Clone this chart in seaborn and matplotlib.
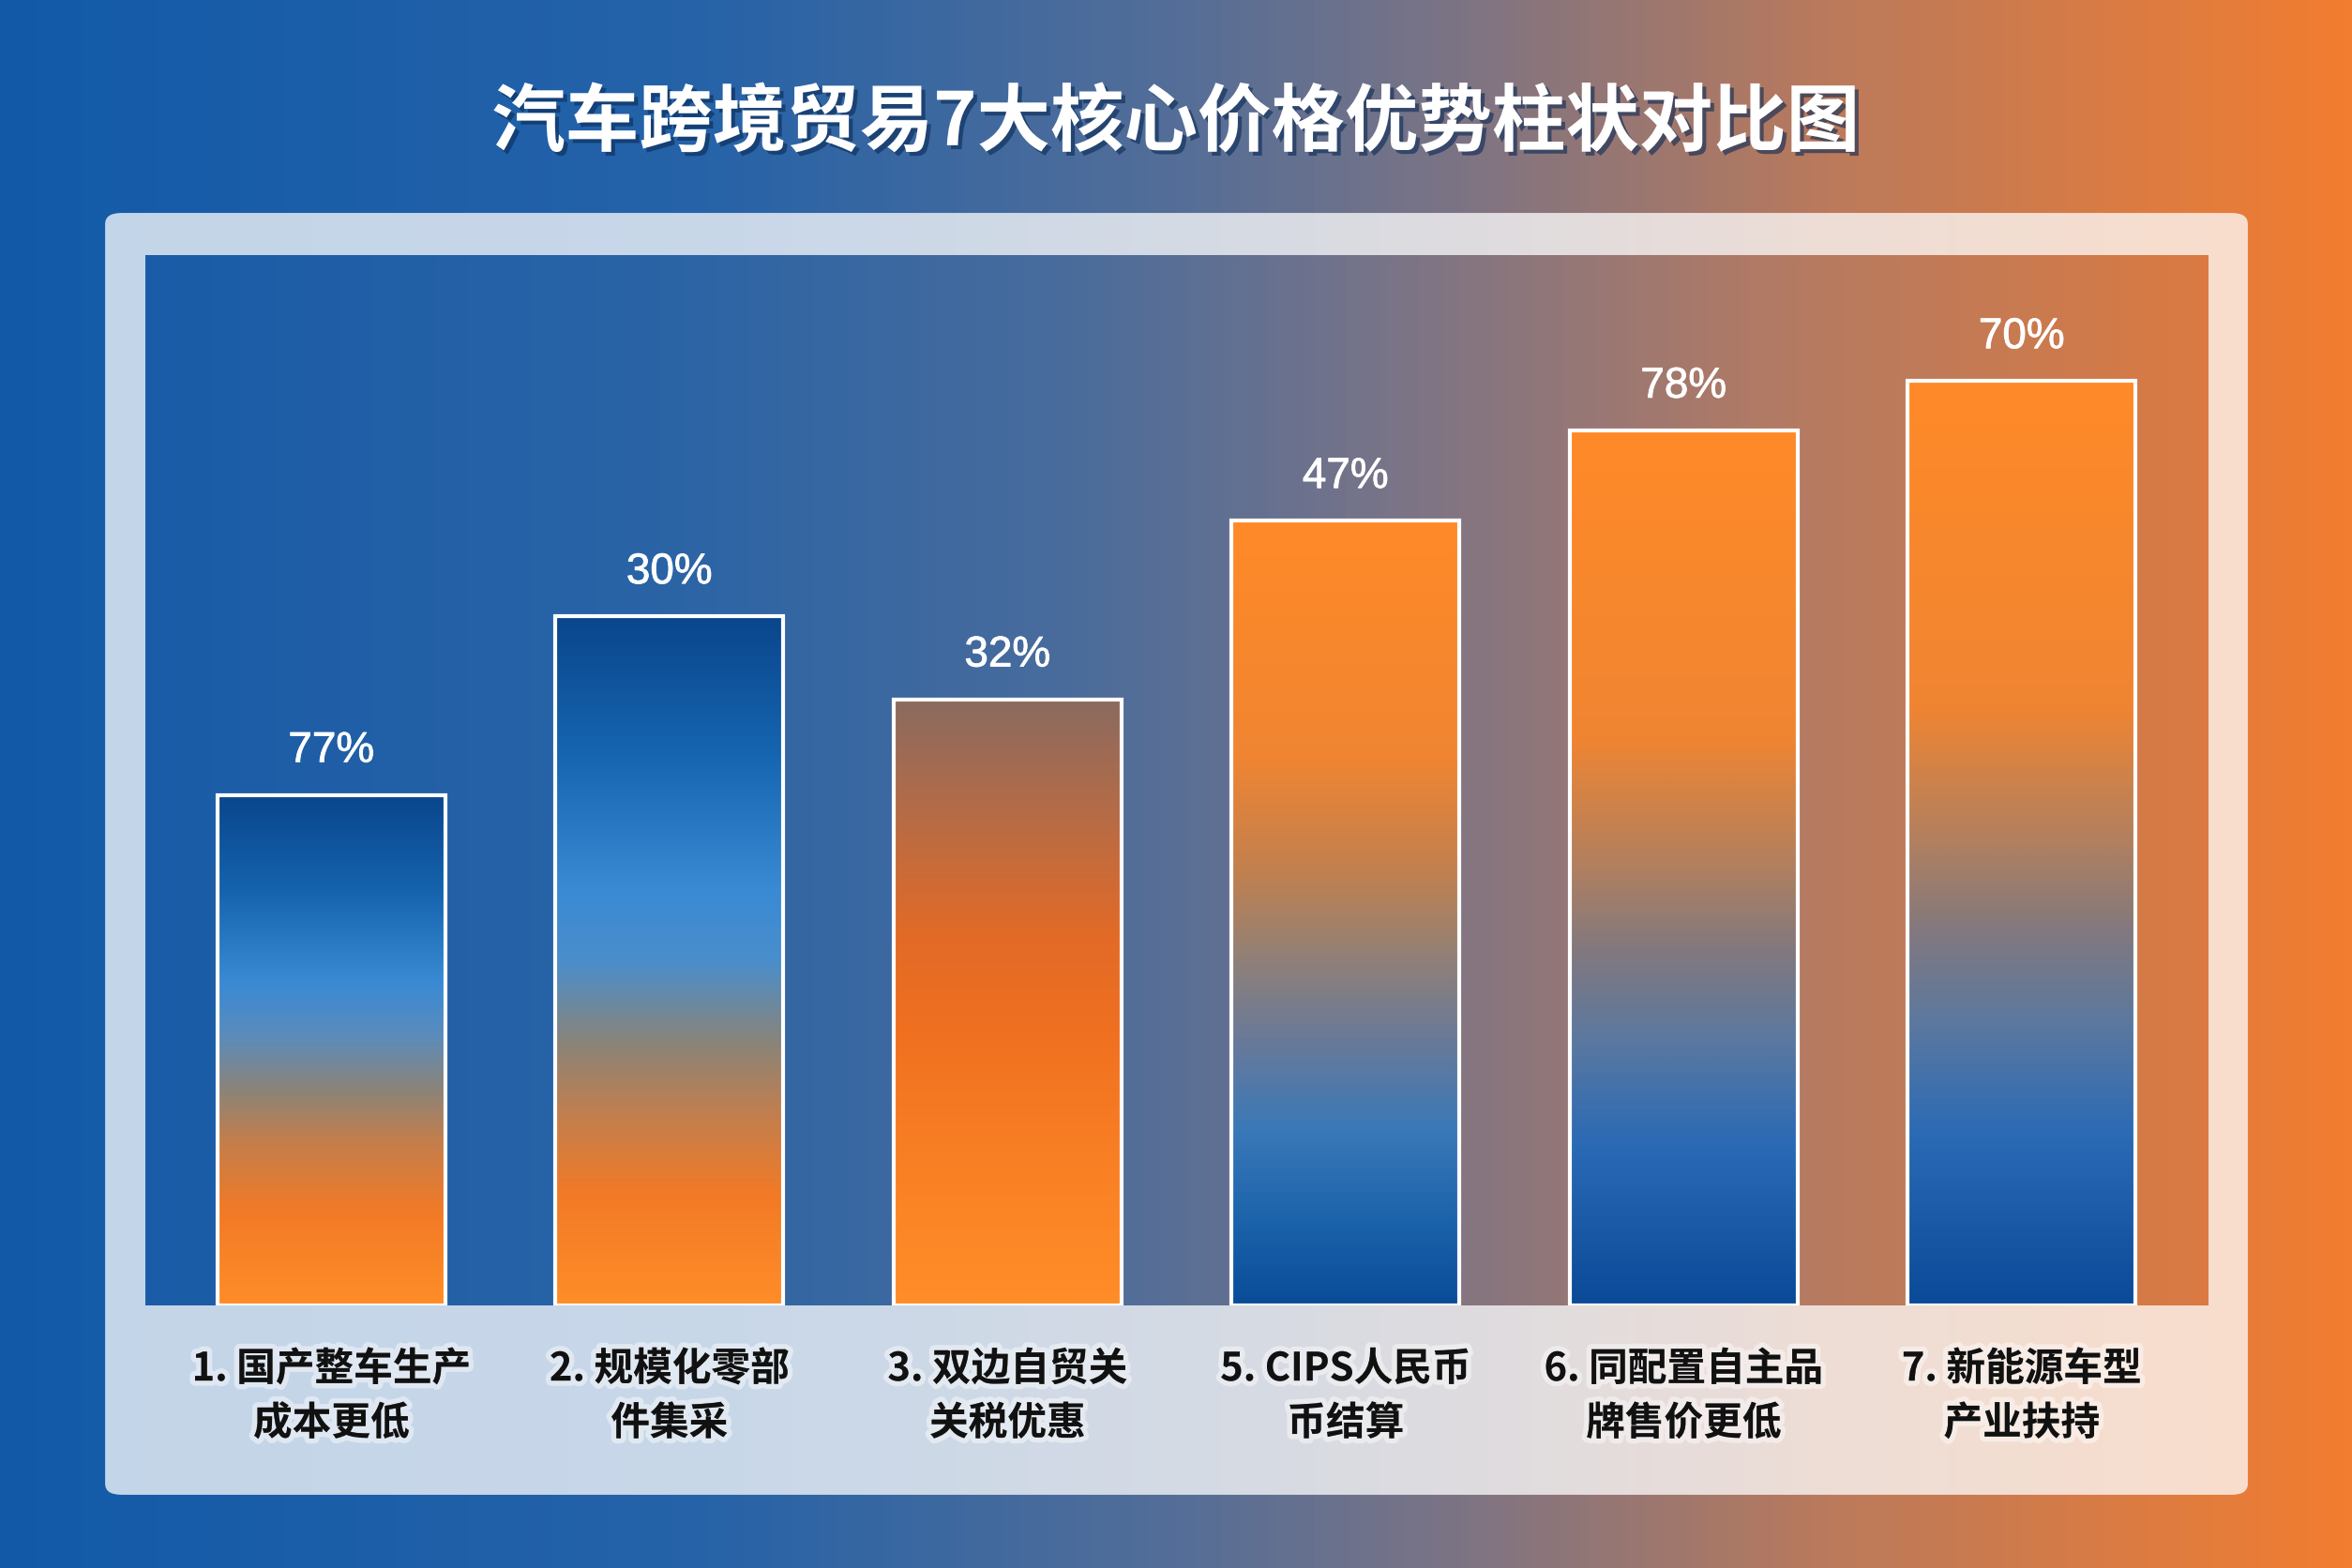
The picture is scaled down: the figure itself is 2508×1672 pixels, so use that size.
import numpy as np
import matplotlib
matplotlib.use("Agg")
import matplotlib.pyplot as plt
import matplotlib.patheffects as pe
from matplotlib.colors import LinearSegmentedColormap
from matplotlib.patches import FancyBboxPatch
import seaborn as sns

# data
title = "汽车跨境贸易7大核心价格优势柱状对比图"
categories = [
    "1. 国产整车生产\n成本更低",
    "2. 规模化零部\n件集采",
    "3. 双边自贸关\n关税优惠",
    "5. CIPS人民币\n币结算",
    "6. 同配置自主品\n牌售价更低",
    "7. 新能源车型\n产业扶持",
]
heights = [48.6, 65.6, 57.7, 74.7, 83.3, 88.0]
value_labels = ["77%", "30%", "32%", "47%", "78%", "70%"]

# gradient stops per bar (top -> bottom)
blue_top = [(0.0, "#0a468c"), (0.18, "#1462ac"), (0.37, "#3a8ad4"), (0.47, "#5a8cbc"),
            (0.58, "#8c8478"), (0.68, "#c47e4c"), (0.82, "#f27a26"), (1.0, "#ff8d28")]
blue_top2 = [(0.0, "#0a468c"), (0.2, "#1565b0"), (0.4, "#3a8ad4"), (0.5, "#4a8ecc"),
             (0.62, "#8a8478"), (0.72, "#c07f50"), (0.84, "#f27a26"), (1.0, "#ff8d28")]
brown_top = [(0.0, "#8a6a60"), (0.2, "#b86c45"), (0.38, "#e06a28"), (0.55, "#f07020"),
             (0.8, "#fa8225"), (1.0, "#ff8d28")]
orange_top = [(0.0, "#ff8a28"), (0.3, "#f08532"), (0.45, "#c08050"), (0.56, "#908078"),
              (0.66, "#6a7a98"), (0.78, "#3a78b8"), (0.9, "#1a62aa"), (1.0, "#0a4c98")]
orange_top2 = [(0.0, "#ff8a28"), (0.35, "#f08532"), (0.5, "#b08060"), (0.6, "#807880"),
               (0.7, "#5a78a0"), (0.82, "#2a6ab5"), (1.0, "#0a4a98")]
bar_stops = [blue_top, blue_top2, brown_top, orange_top, orange_top2, orange_top2]

sns.set_theme(style="white")
plt.rcParams["font.family"] = ["Noto Sans CJK SC", "DejaVu Sans"]

fig = plt.figure(figsize=(25.08, 16.72), dpi=100)

# page background
bg = fig.add_axes([0, 0, 1, 1], zorder=-10)
bg_cmap = LinearSegmentedColormap.from_list(
    "bg", [(0, "#125aa8"), (0.3, "#2663a8"), (0.5, "#546e98"), (0.62, "#7c7484"),
           (0.78, "#bb7a5c"), (1, "#f27d30")])
bg.imshow(np.linspace(0, 1, 512)[None, :], cmap=bg_cmap, aspect="auto", extent=[0, 1, 0, 1])
bg.axis("off")

# light frame
frame = FancyBboxPatch((0.0447, 0.0467), 0.911, 0.8175,
                       boxstyle="round,pad=0,rounding_size=0.007",
                       transform=fig.transFigure, facecolor="white", alpha=0.75,
                       edgecolor="none", zorder=-5)
fig.patches.append(frame)

rect = [0.0618, 0.1675, 0.8768, 0.6699]

# plot area background
pa = fig.add_axes(rect, zorder=-1)
pa_cmap = LinearSegmentedColormap.from_list(
    "pa", [(0, "#1a5ca8"), (0.25, "#2a64a6"), (0.45, "#4a6c9c"), (0.6, "#787488"),
           (0.78, "#b07a66"), (1, "#da7a42")])
pa.imshow(np.linspace(0, 1, 512)[None, :], cmap=pa_cmap, aspect="auto", extent=[0, 1, 0, 1])
pa.axis("off")

ax = fig.add_axes(rect)
ax.set_facecolor("none")
sns.barplot(x=categories, y=heights, ax=ax, width=0.675, color="white",
            edgecolor="white", linewidth=3)

for patch, stops, lab in zip(ax.patches, bar_stops, value_labels):
    x0, y0 = patch.get_x(), patch.get_y()
    w, h = patch.get_width(), patch.get_height()
    cmap = LinearSegmentedColormap.from_list("bar", stops)
    im = ax.imshow(np.linspace(0, 1, 256)[:, None], cmap=cmap, aspect="auto",
                   extent=[x0, x0 + w, y0, y0 + h], origin="upper", zorder=1,
                   interpolation="bicubic")
    im.set_clip_path(patch)
    patch.set_facecolor("none")
    patch.set_zorder(2)
    ax.text(x0 + w / 2, y0 + h + 4.2, lab, ha="center", va="center", color="white",
            fontsize=33, family=["Liberation Sans", "DejaVu Sans"],
            path_effects=[pe.withStroke(linewidth=0.6, foreground="white")])

ax.set_xlim(-0.55, 5.55)
ax.set_ylim(0, 100)
ax.set_yticks([])
ax.set_xlabel("")
ax.set_ylabel("")
for s in ax.spines.values():
    s.set_visible(False)
ax.tick_params(axis="x", length=0, pad=34)
for lbl in ax.get_xticklabels():
    lbl.set_fontsize(30)
    lbl.set_fontweight("bold")
    lbl.set_color("#111111")
    lbl.set_linespacing(1.48)
    lbl.set_path_effects([pe.withStroke(linewidth=8, foreground=(1, 1, 1, 0.45))])

fig.text(0.5, 0.921, title, ha="center", va="center", fontsize=56.5, fontweight="bold",
         color="white",
         path_effects=[pe.withSimplePatchShadow(offset=(3, -3), shadow_rgbFace="#0a2a55", alpha=0.6)])

fig.savefig("out.png", dpi=100)
